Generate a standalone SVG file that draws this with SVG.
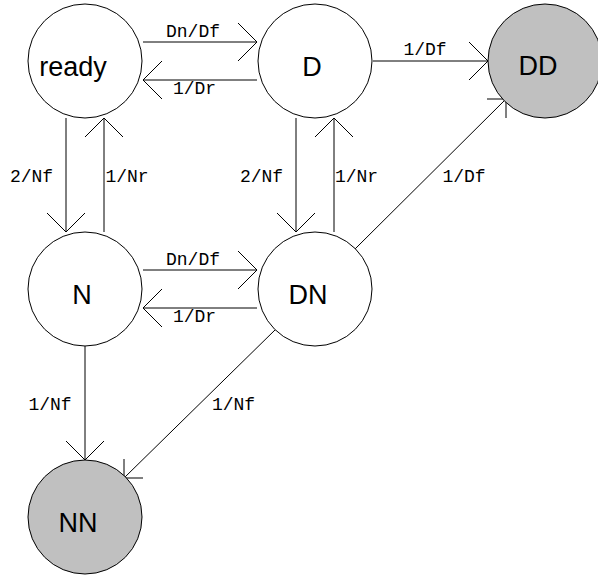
<svg xmlns="http://www.w3.org/2000/svg" width="598" height="577" viewBox="0 0 598 577">
<style>
.node circle{stroke:#000;stroke-width:1;fill:#fff}
.node.final circle{fill:#c0c0c0}
.node text{font-family:"Liberation Sans",Arial,sans-serif;font-size:27px;fill:#000;text-anchor:middle}
.edges path{stroke:#000;stroke-width:1;fill:none}
.lbl{font-family:"Liberation Mono","Courier New",monospace;font-size:18px;fill:#000;text-anchor:middle}
</style>
<rect width="598" height="577" fill="#fff"/>
<g id="edges" class="edges">
<g id="e-ready-D"><path d="M143,42 H257 M238,23 L257,42 L238,61"/><text class="lbl" x="193" y="37">Dn/Df</text></g>
<g id="e-D-ready"><path d="M257,80 H143 M162,61 L143,80 L162,99"/><text class="lbl" x="194.5" y="94">1/Dr</text></g>
<g id="e-ready-N"><path d="M66,118 V232 M47,213 L66,232 L85,213"/><text class="lbl" x="31.5" y="182">2/Nf</text></g>
<g id="e-N-ready"><path d="M104,232 V118 M85,137 L104,118 L123,137"/><text class="lbl" x="127" y="182">1/Nr</text></g>
<g id="e-D-DN"><path d="M296,118 V232 M277,213 L296,232 L315,213"/><text class="lbl" x="261.5" y="182">2/Nf</text></g>
<g id="e-DN-D"><path d="M334,232 V118 M315,137 L334,118 L353,137"/><text class="lbl" x="356.5" y="182">1/Nr</text></g>
<g id="e-D-DD"><path d="M373,61 H488 M469,42 L488,61 L469,80"/><text class="lbl" x="425" y="55">1/Df</text></g>
<g id="e-DN-DD"><path d="M355,249 L506,99 M487,99 H506 V118"/><text class="lbl" x="464" y="182">1/Df</text></g>
<g id="e-N-DN"><path d="M143,270 H257 M238,251 L257,270 L238,289"/><text class="lbl" x="193" y="265">Dn/Df</text></g>
<g id="e-DN-N"><path d="M257,308 H143 M162,289 L143,308 L162,327"/><text class="lbl" x="194.5" y="322">1/Dr</text></g>
<g id="e-N-NN"><path d="M85,346 V460 M66,441 L85,460 L104,441"/><text class="lbl" x="50" y="410">1/Nf</text></g>
<g id="e-DN-NN"><path d="M276,329 L124,478 M124,459 V478 H143"/><text class="lbl" x="233.5" y="410">1/Nf</text></g>
</g>
<g id="ready" class="node"><circle cx="85" cy="61" r="57"/><text x="73" y="76">ready</text></g>
<g id="D" class="node"><circle cx="315" cy="61" r="57"/><text x="312" y="76">D</text></g>
<g id="DD" class="node final"><circle cx="545" cy="61" r="57"/><text x="538" y="75">DD</text></g>
<g id="N" class="node"><circle cx="85" cy="289" r="57"/><text x="82" y="304">N</text></g>
<g id="DN" class="node"><circle cx="315" cy="289" r="57"/><text x="308" y="304">DN</text></g>
<g id="NN" class="node final"><circle cx="85" cy="517" r="57"/><text x="78" y="532">NN</text></g>
</svg>
